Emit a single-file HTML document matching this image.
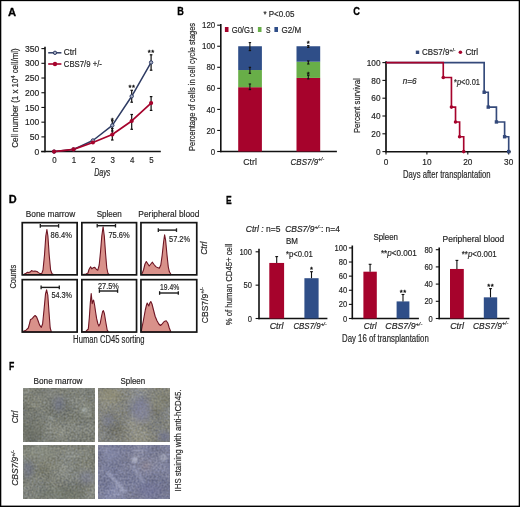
<!DOCTYPE html>
<html><head><meta charset="utf-8"><style>
html,body{margin:0;padding:0;background:#fff;}
#w{position:relative;width:520px;height:507px;overflow:hidden;background:#fff;filter:grayscale(0%);}
svg{position:absolute;left:0;top:0;}
svg text{font-family:"Liberation Sans", sans-serif;}
</style></head><body><div id="w">
<svg width="520" height="507" viewBox="0 0 520 507">
<text x="8.10" y="15.60" font-size="11.2" text-anchor="start" fill="#000" font-weight="bold" textLength="8.10" lengthAdjust="spacingAndGlyphs" stroke="#000" stroke-width="0.3">A</text>
<text x="177.20" y="15.30" font-size="11.2" text-anchor="start" fill="#000" font-weight="bold" textLength="6.60" lengthAdjust="spacingAndGlyphs" stroke="#000" stroke-width="0.3">B</text>
<text x="353.20" y="15.30" font-size="11.2" text-anchor="start" fill="#000" font-weight="bold" textLength="6.70" lengthAdjust="spacingAndGlyphs" stroke="#000" stroke-width="0.3">C</text>
<text x="8.80" y="203.30" font-size="11.2" text-anchor="start" fill="#000" font-weight="bold" textLength="7.90" lengthAdjust="spacingAndGlyphs" stroke="#000" stroke-width="0.3">D</text>
<text x="226.00" y="203.50" font-size="11.2" text-anchor="start" fill="#000" font-weight="bold" textLength="5.70" lengthAdjust="spacingAndGlyphs" stroke="#000" stroke-width="0.3">E</text>
<text x="9.10" y="369.50" font-size="11.2" text-anchor="start" fill="#000" font-weight="bold" textLength="5.30" lengthAdjust="spacingAndGlyphs" stroke="#000" stroke-width="0.3">F</text>
<line x1="45.00" y1="46.80" x2="45.00" y2="152.30" stroke="#111" stroke-width="1.6"/>
<line x1="41.20" y1="151.60" x2="160.80" y2="151.60" stroke="#111" stroke-width="1.5"/>
<line x1="41.40" y1="151.60" x2="45.00" y2="151.60" stroke="#111" stroke-width="1.1"/>
<text x="39.30" y="154.70" font-size="8.6" text-anchor="end" fill="#262626" textLength="4.75" lengthAdjust="spacingAndGlyphs" stroke="#262626" stroke-width="0.18">0</text>
<line x1="41.40" y1="136.88" x2="45.00" y2="136.88" stroke="#111" stroke-width="1.1"/>
<text x="39.30" y="139.98" font-size="8.6" text-anchor="end" fill="#262626" textLength="9.50" lengthAdjust="spacingAndGlyphs" stroke="#262626" stroke-width="0.18">50</text>
<line x1="41.40" y1="122.17" x2="45.00" y2="122.17" stroke="#111" stroke-width="1.1"/>
<text x="39.30" y="125.27" font-size="8.6" text-anchor="end" fill="#262626" textLength="14.25" lengthAdjust="spacingAndGlyphs" stroke="#262626" stroke-width="0.18">100</text>
<line x1="41.40" y1="107.45" x2="45.00" y2="107.45" stroke="#111" stroke-width="1.1"/>
<text x="39.30" y="110.55" font-size="8.6" text-anchor="end" fill="#262626" textLength="14.25" lengthAdjust="spacingAndGlyphs" stroke="#262626" stroke-width="0.18">150</text>
<line x1="41.40" y1="92.74" x2="45.00" y2="92.74" stroke="#111" stroke-width="1.1"/>
<text x="39.30" y="95.84" font-size="8.6" text-anchor="end" fill="#262626" textLength="14.25" lengthAdjust="spacingAndGlyphs" stroke="#262626" stroke-width="0.18">200</text>
<line x1="41.40" y1="78.02" x2="45.00" y2="78.02" stroke="#111" stroke-width="1.1"/>
<text x="39.30" y="81.12" font-size="8.6" text-anchor="end" fill="#262626" textLength="14.25" lengthAdjust="spacingAndGlyphs" stroke="#262626" stroke-width="0.18">250</text>
<line x1="41.40" y1="63.31" x2="45.00" y2="63.31" stroke="#111" stroke-width="1.1"/>
<text x="39.30" y="66.41" font-size="8.6" text-anchor="end" fill="#262626" textLength="14.25" lengthAdjust="spacingAndGlyphs" stroke="#262626" stroke-width="0.18">300</text>
<line x1="41.40" y1="48.59" x2="45.00" y2="48.59" stroke="#111" stroke-width="1.1"/>
<text x="39.30" y="51.69" font-size="8.6" text-anchor="end" fill="#262626" textLength="14.25" lengthAdjust="spacingAndGlyphs" stroke="#262626" stroke-width="0.18">350</text>
<text x="54.50" y="162.60" font-size="8.6" text-anchor="middle" fill="#262626" textLength="4.40" lengthAdjust="spacingAndGlyphs" stroke="#262626" stroke-width="0.18">0</text>
<text x="73.90" y="162.60" font-size="8.6" text-anchor="middle" fill="#262626" textLength="4.40" lengthAdjust="spacingAndGlyphs" stroke="#262626" stroke-width="0.18">1</text>
<text x="93.30" y="162.60" font-size="8.6" text-anchor="middle" fill="#262626" textLength="4.40" lengthAdjust="spacingAndGlyphs" stroke="#262626" stroke-width="0.18">2</text>
<text x="112.70" y="162.60" font-size="8.6" text-anchor="middle" fill="#262626" textLength="4.40" lengthAdjust="spacingAndGlyphs" stroke="#262626" stroke-width="0.18">3</text>
<text x="132.10" y="162.60" font-size="8.6" text-anchor="middle" fill="#262626" textLength="4.40" lengthAdjust="spacingAndGlyphs" stroke="#262626" stroke-width="0.18">4</text>
<text x="151.50" y="162.60" font-size="8.6" text-anchor="middle" fill="#262626" textLength="4.40" lengthAdjust="spacingAndGlyphs" stroke="#262626" stroke-width="0.18">5</text>
<text x="102.30" y="175.60" font-size="10.2" text-anchor="middle" fill="#262626" font-style="italic" textLength="16.20" lengthAdjust="spacingAndGlyphs" stroke="#262626" stroke-width="0.18">Days</text>
<text x="18.00" y="98.00" font-size="8.6" text-anchor="middle" fill="#262626" textLength="99.50" lengthAdjust="spacingAndGlyphs" stroke="#262626" stroke-width="0.18" transform="rotate(-90 18.00 98.00)">Cell number (1 x 10<tspan font-size="5.8" dy="-3.2">4</tspan><tspan dy="3.2"> cell/ml)</tspan></text>
<polyline fill="none" stroke="#2e3b63" stroke-width="1.5" stroke-linejoin="round" points="54.10,151.60 73.50,149.39 92.90,140.48 112.30,125.41 131.70,96.27 151.10,62.43"/>
<polyline fill="none" stroke="#a6032c" stroke-width="1.7" stroke-linejoin="round" points="54.10,151.60 73.50,149.39 92.90,142.48 112.30,134.53 131.70,120.99 151.10,103.04"/>
<line x1="112.30" y1="120.80" x2="112.30" y2="131.00" stroke="#111" stroke-width="1.2"/>
<line x1="111.00" y1="120.80" x2="113.60" y2="120.80" stroke="#111" stroke-width="1.2"/>
<line x1="111.00" y1="131.00" x2="113.60" y2="131.00" stroke="#111" stroke-width="1.2"/>
<line x1="131.70" y1="90.30" x2="131.70" y2="102.20" stroke="#111" stroke-width="1.2"/>
<line x1="130.40" y1="90.30" x2="133.00" y2="90.30" stroke="#111" stroke-width="1.2"/>
<line x1="130.40" y1="102.20" x2="133.00" y2="102.20" stroke="#111" stroke-width="1.2"/>
<line x1="151.10" y1="54.80" x2="151.10" y2="70.20" stroke="#111" stroke-width="1.2"/>
<line x1="149.80" y1="54.80" x2="152.40" y2="54.80" stroke="#111" stroke-width="1.2"/>
<line x1="149.80" y1="70.20" x2="152.40" y2="70.20" stroke="#111" stroke-width="1.2"/>
<line x1="112.30" y1="128.50" x2="112.30" y2="140.00" stroke="#111" stroke-width="1.2"/>
<line x1="111.00" y1="128.50" x2="113.60" y2="128.50" stroke="#111" stroke-width="1.2"/>
<line x1="111.00" y1="140.00" x2="113.60" y2="140.00" stroke="#111" stroke-width="1.2"/>
<line x1="131.70" y1="114.50" x2="131.70" y2="129.30" stroke="#111" stroke-width="1.2"/>
<line x1="130.40" y1="114.50" x2="133.00" y2="114.50" stroke="#111" stroke-width="1.2"/>
<line x1="130.40" y1="129.30" x2="133.00" y2="129.30" stroke="#111" stroke-width="1.2"/>
<line x1="151.10" y1="96.60" x2="151.10" y2="110.40" stroke="#111" stroke-width="1.2"/>
<line x1="149.80" y1="96.60" x2="152.40" y2="96.60" stroke="#111" stroke-width="1.2"/>
<line x1="149.80" y1="110.40" x2="152.40" y2="110.40" stroke="#111" stroke-width="1.2"/>
<circle cx="54.10" cy="151.60" r="1.7" fill="#a8b0c4" stroke="#2e3b63" stroke-width="1"/>
<circle cx="73.50" cy="149.39" r="1.7" fill="#a8b0c4" stroke="#2e3b63" stroke-width="1"/>
<circle cx="92.90" cy="140.48" r="1.7" fill="#a8b0c4" stroke="#2e3b63" stroke-width="1"/>
<circle cx="112.30" cy="125.41" r="1.7" fill="#a8b0c4" stroke="#2e3b63" stroke-width="1"/>
<circle cx="131.70" cy="96.27" r="1.7" fill="#a8b0c4" stroke="#2e3b63" stroke-width="1"/>
<circle cx="151.10" cy="62.43" r="1.7" fill="#a8b0c4" stroke="#2e3b63" stroke-width="1"/>
<circle cx="54.10" cy="151.60" r="2.1" fill="#a6032c"/>
<circle cx="73.50" cy="149.39" r="2.1" fill="#a6032c"/>
<circle cx="92.90" cy="142.48" r="2.1" fill="#a6032c"/>
<circle cx="112.30" cy="134.53" r="2.1" fill="#a6032c"/>
<circle cx="131.70" cy="120.99" r="2.1" fill="#a6032c"/>
<circle cx="151.10" cy="103.04" r="2.1" fill="#a6032c"/>
<text x="112.30" y="123.20" font-size="7.6" text-anchor="middle" fill="#111" stroke="#111" stroke-width="0.35">*</text>
<text x="129.95" y="90.00" font-size="7.6" text-anchor="middle" fill="#111" stroke="#111" stroke-width="0.35">*</text>
<text x="133.45" y="90.00" font-size="7.6" text-anchor="middle" fill="#111" stroke="#111" stroke-width="0.35">*</text>
<text x="149.35" y="54.90" font-size="7.6" text-anchor="middle" fill="#111" stroke="#111" stroke-width="0.35">*</text>
<text x="152.85" y="54.90" font-size="7.6" text-anchor="middle" fill="#111" stroke="#111" stroke-width="0.35">*</text>
<line x1="48.20" y1="52.80" x2="61.40" y2="52.80" stroke="#2e3b63" stroke-width="1.5"/>
<circle cx="55" cy="52.8" r="1.7" fill="#a8b0c4" stroke="#2e3b63" stroke-width="1"/>
<text x="63.80" y="55.00" font-size="8.6" text-anchor="start" fill="#262626" textLength="12.80" lengthAdjust="spacingAndGlyphs" stroke="#262626" stroke-width="0.18">Ctrl</text>
<line x1="48.20" y1="64.00" x2="61.40" y2="64.00" stroke="#a6032c" stroke-width="1.6"/>
<circle cx="55" cy="64.0" r="2.2" fill="#a6032c"/>
<text x="63.80" y="66.90" font-size="8.6" text-anchor="start" fill="#262626" textLength="38.10" lengthAdjust="spacingAndGlyphs" stroke="#262626" stroke-width="0.18">CBS7/9 +/-</text>
<line x1="220.80" y1="24.00" x2="220.80" y2="152.20" stroke="#111" stroke-width="1.6"/>
<line x1="220.20" y1="151.50" x2="336.90" y2="151.50" stroke="#111" stroke-width="1.5"/>
<line x1="217.20" y1="151.50" x2="220.80" y2="151.50" stroke="#111" stroke-width="1.1"/>
<text x="215.20" y="154.60" font-size="8.6" text-anchor="end" fill="#262626" textLength="4.40" lengthAdjust="spacingAndGlyphs" stroke="#262626" stroke-width="0.18">0</text>
<line x1="217.20" y1="130.45" x2="220.80" y2="130.45" stroke="#111" stroke-width="1.1"/>
<text x="215.20" y="133.55" font-size="8.6" text-anchor="end" fill="#262626" textLength="8.80" lengthAdjust="spacingAndGlyphs" stroke="#262626" stroke-width="0.18">20</text>
<line x1="217.20" y1="109.40" x2="220.80" y2="109.40" stroke="#111" stroke-width="1.1"/>
<text x="215.20" y="112.50" font-size="8.6" text-anchor="end" fill="#262626" textLength="8.80" lengthAdjust="spacingAndGlyphs" stroke="#262626" stroke-width="0.18">40</text>
<line x1="217.20" y1="88.35" x2="220.80" y2="88.35" stroke="#111" stroke-width="1.1"/>
<text x="215.20" y="91.45" font-size="8.6" text-anchor="end" fill="#262626" textLength="8.80" lengthAdjust="spacingAndGlyphs" stroke="#262626" stroke-width="0.18">60</text>
<line x1="217.20" y1="67.30" x2="220.80" y2="67.30" stroke="#111" stroke-width="1.1"/>
<text x="215.20" y="70.40" font-size="8.6" text-anchor="end" fill="#262626" textLength="8.80" lengthAdjust="spacingAndGlyphs" stroke="#262626" stroke-width="0.18">80</text>
<line x1="217.20" y1="46.25" x2="220.80" y2="46.25" stroke="#111" stroke-width="1.1"/>
<text x="215.20" y="49.35" font-size="8.6" text-anchor="end" fill="#262626" textLength="13.20" lengthAdjust="spacingAndGlyphs" stroke="#262626" stroke-width="0.18">100</text>
<line x1="217.20" y1="25.20" x2="220.80" y2="25.20" stroke="#111" stroke-width="1.1"/>
<text x="215.20" y="28.30" font-size="8.6" text-anchor="end" fill="#262626" textLength="13.20" lengthAdjust="spacingAndGlyphs" stroke="#262626" stroke-width="0.18">120</text>
<rect x="238.20" y="87.19" width="23.70" height="64.31" fill="#a6032c" />
<rect x="238.20" y="70.04" width="23.70" height="17.16" fill="#68ae48" />
<rect x="238.20" y="46.25" width="23.70" height="23.79" fill="#2f4e88" />
<rect x="296.50" y="77.93" width="23.70" height="73.57" fill="#a6032c" />
<rect x="296.50" y="61.72" width="23.70" height="16.21" fill="#68ae48" />
<rect x="296.50" y="46.25" width="23.70" height="15.47" fill="#2f4e88" />
<line x1="249.90" y1="42.60" x2="249.90" y2="50.60" stroke="#111" stroke-width="1.1"/>
<line x1="248.70" y1="42.60" x2="251.10" y2="42.60" stroke="#111" stroke-width="1.1"/>
<line x1="248.70" y1="50.60" x2="251.10" y2="50.60" stroke="#111" stroke-width="1.1"/>
<line x1="249.90" y1="67.30" x2="249.90" y2="73.30" stroke="#111" stroke-width="1.1"/>
<line x1="248.70" y1="67.30" x2="251.10" y2="67.30" stroke="#111" stroke-width="1.1"/>
<line x1="248.70" y1="73.30" x2="251.10" y2="73.30" stroke="#111" stroke-width="1.1"/>
<line x1="249.90" y1="84.00" x2="249.90" y2="89.60" stroke="#111" stroke-width="1.1"/>
<line x1="248.70" y1="84.00" x2="251.10" y2="84.00" stroke="#111" stroke-width="1.1"/>
<line x1="248.70" y1="89.60" x2="251.10" y2="89.60" stroke="#111" stroke-width="1.1"/>
<line x1="308.30" y1="45.60" x2="308.30" y2="47.40" stroke="#111" stroke-width="1.1"/>
<line x1="307.10" y1="45.60" x2="309.50" y2="45.60" stroke="#111" stroke-width="1.1"/>
<line x1="307.10" y1="47.40" x2="309.50" y2="47.40" stroke="#111" stroke-width="1.1"/>
<line x1="308.30" y1="60.90" x2="308.30" y2="64.00" stroke="#111" stroke-width="1.1"/>
<line x1="307.10" y1="60.90" x2="309.50" y2="60.90" stroke="#111" stroke-width="1.1"/>
<line x1="307.10" y1="64.00" x2="309.50" y2="64.00" stroke="#111" stroke-width="1.1"/>
<line x1="308.30" y1="75.30" x2="308.30" y2="78.90" stroke="#111" stroke-width="1.1"/>
<line x1="307.10" y1="75.30" x2="309.50" y2="75.30" stroke="#111" stroke-width="1.1"/>
<line x1="307.10" y1="78.90" x2="309.50" y2="78.90" stroke="#111" stroke-width="1.1"/>
<text x="308.30" y="45.60" font-size="7.6" text-anchor="middle" fill="#111" stroke="#111" stroke-width="0.35">*</text>
<text x="308.30" y="76.70" font-size="7.6" text-anchor="middle" fill="#111" stroke="#111" stroke-width="0.35">*</text>
<text x="250.10" y="164.90" font-size="8.6" text-anchor="middle" fill="#262626" textLength="13.50" lengthAdjust="spacingAndGlyphs" stroke="#262626" stroke-width="0.18">Ctrl</text>
<text x="290.60" y="164.60" font-size="8.6" text-anchor="start" fill="#262626" font-style="italic" textLength="33.60" lengthAdjust="spacingAndGlyphs" stroke="#262626" stroke-width="0.18">CBS7/9<tspan font-size="5.5" dy="-3.2">+/-</tspan></text>
<text x="263.40" y="17.30" font-size="8.6" text-anchor="start" fill="#262626" textLength="31.00" lengthAdjust="spacingAndGlyphs" stroke="#262626" stroke-width="0.18">* P&lt;0.05</text>
<rect x="224.90" y="27.00" width="3.60" height="5.00" fill="#a6032c" />
<text x="231.70" y="32.60" font-size="8.6" text-anchor="start" fill="#262626" textLength="22.50" lengthAdjust="spacingAndGlyphs" stroke="#262626" stroke-width="0.18">G0/G1</text>
<rect x="257.90" y="27.00" width="3.60" height="5.00" fill="#68ae48" />
<text x="266.00" y="32.60" font-size="8.6" text-anchor="start" fill="#262626" textLength="4.50" lengthAdjust="spacingAndGlyphs" stroke="#262626" stroke-width="0.18">S</text>
<rect x="274.40" y="27.00" width="3.60" height="5.00" fill="#2f4e88" />
<text x="281.60" y="32.60" font-size="8.6" text-anchor="start" fill="#262626" textLength="19.70" lengthAdjust="spacingAndGlyphs" stroke="#262626" stroke-width="0.18">G2/M</text>
<text x="194.60" y="86.90" font-size="8.6" text-anchor="middle" fill="#262626" textLength="128.00" lengthAdjust="spacingAndGlyphs" stroke="#262626" stroke-width="0.18" transform="rotate(-90 194.60 86.90)">Percentage of cells in cell cycle stages</text>
<line x1="386.00" y1="61.20" x2="386.00" y2="152.30" stroke="#111" stroke-width="1.7"/>
<line x1="385.40" y1="151.70" x2="510.70" y2="151.70" stroke="#111" stroke-width="1.5"/>
<line x1="382.40" y1="151.60" x2="386.00" y2="151.60" stroke="#111" stroke-width="1.1"/>
<text x="380.50" y="154.70" font-size="8.6" text-anchor="end" fill="#262626" textLength="4.60" lengthAdjust="spacingAndGlyphs" stroke="#262626" stroke-width="0.18">0</text>
<line x1="382.40" y1="133.80" x2="386.00" y2="133.80" stroke="#111" stroke-width="1.1"/>
<text x="380.50" y="136.90" font-size="8.6" text-anchor="end" fill="#262626" textLength="9.20" lengthAdjust="spacingAndGlyphs" stroke="#262626" stroke-width="0.18">20</text>
<line x1="382.40" y1="116.00" x2="386.00" y2="116.00" stroke="#111" stroke-width="1.1"/>
<text x="380.50" y="119.10" font-size="8.6" text-anchor="end" fill="#262626" textLength="9.20" lengthAdjust="spacingAndGlyphs" stroke="#262626" stroke-width="0.18">40</text>
<line x1="382.40" y1="98.20" x2="386.00" y2="98.20" stroke="#111" stroke-width="1.1"/>
<text x="380.50" y="101.30" font-size="8.6" text-anchor="end" fill="#262626" textLength="9.20" lengthAdjust="spacingAndGlyphs" stroke="#262626" stroke-width="0.18">60</text>
<line x1="382.40" y1="80.40" x2="386.00" y2="80.40" stroke="#111" stroke-width="1.1"/>
<text x="380.50" y="83.50" font-size="8.6" text-anchor="end" fill="#262626" textLength="9.20" lengthAdjust="spacingAndGlyphs" stroke="#262626" stroke-width="0.18">80</text>
<line x1="382.40" y1="62.60" x2="386.00" y2="62.60" stroke="#111" stroke-width="1.1"/>
<text x="380.50" y="65.70" font-size="8.6" text-anchor="end" fill="#262626" textLength="13.80" lengthAdjust="spacingAndGlyphs" stroke="#262626" stroke-width="0.18">100</text>
<line x1="386.00" y1="151.70" x2="386.00" y2="154.60" stroke="#111" stroke-width="1.1"/>
<text x="386.00" y="165.10" font-size="8.6" text-anchor="middle" fill="#262626" textLength="4.60" lengthAdjust="spacingAndGlyphs" stroke="#262626" stroke-width="0.18">0</text>
<line x1="426.90" y1="151.70" x2="426.90" y2="154.60" stroke="#111" stroke-width="1.1"/>
<text x="426.90" y="165.10" font-size="8.6" text-anchor="middle" fill="#262626" textLength="9.20" lengthAdjust="spacingAndGlyphs" stroke="#262626" stroke-width="0.18">10</text>
<line x1="467.80" y1="151.70" x2="467.80" y2="154.60" stroke="#111" stroke-width="1.1"/>
<text x="467.80" y="165.10" font-size="8.6" text-anchor="middle" fill="#262626" textLength="9.20" lengthAdjust="spacingAndGlyphs" stroke="#262626" stroke-width="0.18">20</text>
<line x1="508.70" y1="151.70" x2="508.70" y2="154.60" stroke="#111" stroke-width="1.1"/>
<text x="508.70" y="165.10" font-size="8.6" text-anchor="middle" fill="#262626" textLength="9.20" lengthAdjust="spacingAndGlyphs" stroke="#262626" stroke-width="0.18">30</text>
<text x="446.80" y="178.40" font-size="10.4" text-anchor="middle" fill="#262626" textLength="87.60" lengthAdjust="spacingAndGlyphs" stroke="#262626" stroke-width="0.18">Days after transplantation</text>
<text x="360.20" y="105.70" font-size="8.8" text-anchor="middle" fill="#262626" textLength="54.80" lengthAdjust="spacingAndGlyphs" stroke="#262626" stroke-width="0.18" transform="rotate(-90 360.20 105.70)">Percent survival</text>
<path d="M386.00,62.60 H484.16 V92.24 H488.25 V107.10 H496.43 V121.96 H504.61 V136.74 H508.70 V151.60" fill="none" stroke="#34497a" stroke-width="1.65"/>
<rect x="482.46" y="90.54" width="3.40" height="3.40" fill="#34497a" />
<rect x="486.55" y="105.40" width="3.40" height="3.40" fill="#34497a" />
<rect x="494.73" y="120.26" width="3.40" height="3.40" fill="#34497a" />
<rect x="502.91" y="135.04" width="3.40" height="3.40" fill="#34497a" />
<rect x="507.00" y="149.90" width="3.40" height="3.40" fill="#34497a" />
<path d="M386.00,62.60 H443.26 V77.46 H451.44 V107.10 H455.53 V121.96 H459.62 V136.74 H463.71 V151.60" fill="none" stroke="#a6032c" stroke-width="1.65"/>
<circle cx="443.26" cy="77.46" r="1.8" fill="#a6032c"/>
<circle cx="451.44" cy="107.10" r="1.8" fill="#a6032c"/>
<circle cx="455.53" cy="121.96" r="1.8" fill="#a6032c"/>
<circle cx="459.62" cy="136.74" r="1.8" fill="#a6032c"/>
<circle cx="463.71" cy="151.60" r="1.8" fill="#a6032c"/>
<text x="402.70" y="84.00" font-size="8.6" text-anchor="start" fill="#262626" font-style="italic" textLength="13.80" lengthAdjust="spacingAndGlyphs" stroke="#262626" stroke-width="0.18">n=6</text>
<text x="454.00" y="84.90" font-size="8.6" text-anchor="start" fill="#262626" textLength="26.00" lengthAdjust="spacingAndGlyphs" stroke="#262626" stroke-width="0.18">*<tspan font-style="italic">p</tspan>&lt;0.01</text>
<rect x="415.80" y="50.60" width="3.40" height="3.40" fill="#34497a" />
<text x="422.00" y="55.30" font-size="8.6" text-anchor="start" fill="#262626" textLength="33.50" lengthAdjust="spacingAndGlyphs" stroke="#262626" stroke-width="0.18">CBS7/9<tspan font-size="5.5" dy="-3.2">+/-</tspan></text>
<circle cx="460.4" cy="52.3" r="1.8" fill="#a6032c"/>
<text x="465.40" y="55.30" font-size="8.6" text-anchor="start" fill="#262626" textLength="12.80" lengthAdjust="spacingAndGlyphs" stroke="#262626" stroke-width="0.18">Ctrl</text>
<text x="50.50" y="217.17" font-size="8.8" text-anchor="middle" fill="#262626" textLength="49.40" lengthAdjust="spacingAndGlyphs" stroke="#262626" stroke-width="0.18">Bone marrow</text>
<text x="109.20" y="217.17" font-size="8.8" text-anchor="middle" fill="#262626" textLength="25.10" lengthAdjust="spacingAndGlyphs" stroke="#262626" stroke-width="0.18">Spleen</text>
<text x="168.90" y="217.17" font-size="8.8" text-anchor="middle" fill="#262626" textLength="61.10" lengthAdjust="spacingAndGlyphs" stroke="#262626" stroke-width="0.18">Peripheral blood</text>
<path d="M22.50,274.60 L24.00,274.20 L26.00,273.20 L27.50,272.20 L29.00,272.60 L30.50,271.80 L31.50,270.60 L33.00,271.20 L35.00,271.00 L37.00,271.50 L38.50,272.60 L40.00,273.60 L41.80,273.40 L43.00,270.00 L44.50,255.00 L45.80,236.00 L46.90,229.60 L47.90,236.00 L49.20,255.00 L50.60,270.00 L52.00,273.80 L53.50,274.60 Z" fill="#d9918a" stroke="#6e1624" stroke-width="1.1" stroke-linejoin="round"/>
<path d="M82.50,274.60 L86.00,274.00 L88.00,273.00 L89.00,269.50 L90.60,266.80 L91.80,268.80 L93.00,267.80 L94.80,267.40 L96.50,269.50 L97.80,270.20 L99.20,265.00 L100.50,252.00 L101.80,236.00 L103.10,226.80 L104.30,236.00 L105.60,254.00 L106.80,268.00 L108.00,273.50 L109.50,274.60 Z" fill="#d9918a" stroke="#6e1624" stroke-width="1.1" stroke-linejoin="round"/>
<path d="M141.50,274.60 L142.30,273.00 L143.50,270.00 L145.00,264.00 L146.30,261.50 L147.60,263.50 L149.20,266.00 L150.80,264.00 L152.40,262.20 L154.00,264.50 L155.80,266.60 L157.50,267.60 L159.30,268.30 L160.80,265.00 L162.20,255.00 L163.60,242.00 L164.60,234.80 L165.60,240.00 L167.00,255.00 L168.30,267.00 L169.40,271.80 L171.00,274.60 Z" fill="#d9918a" stroke="#6e1624" stroke-width="1.1" stroke-linejoin="round"/>
<path d="M22.50,331.80 L24.00,331.00 L26.00,330.20 L28.30,328.00 L29.40,324.00 L30.40,319.80 L32.40,318.40 L33.80,316.60 L35.10,315.50 L36.60,317.00 L38.00,320.50 L39.50,324.90 L41.30,327.30 L42.60,324.00 L44.00,310.00 L45.50,294.00 L46.60,289.80 L47.80,295.00 L49.00,312.00 L50.20,328.00 L51.40,331.80 Z" fill="#d9918a" stroke="#6e1624" stroke-width="1.1" stroke-linejoin="round"/>
<path d="M82.40,331.80 L86.00,331.20 L88.30,329.00 L89.30,318.00 L90.30,303.00 L91.20,293.60 L92.20,303.60 L92.90,301.00 L93.60,300.10 L94.60,305.00 L95.60,312.00 L96.60,318.40 L97.80,323.50 L98.90,326.10 L100.20,323.50 L101.60,316.00 L102.60,311.50 L103.40,310.70 L104.40,313.50 L105.60,321.00 L107.20,330.20 L108.40,331.80 Z" fill="#d9918a" stroke="#6e1624" stroke-width="1.1" stroke-linejoin="round"/>
<path d="M141.20,331.80 L141.80,328.50 L143.50,320.00 L145.30,310.00 L146.50,305.00 L147.20,303.00 L148.00,304.50 L148.80,306.00 L149.80,303.00 L150.80,301.50 L152.00,304.00 L153.50,310.00 L155.20,316.50 L157.00,320.80 L158.80,324.00 L160.50,325.50 L162.20,323.80 L164.20,321.50 L166.20,320.80 L167.80,323.00 L169.30,328.00 L170.80,331.80 Z" fill="#d9918a" stroke="#6e1624" stroke-width="1.1" stroke-linejoin="round"/>
<rect x="22.25" y="222.65" width="54.90" height="52.20" fill="none" stroke="#151515" stroke-width="1.7"/>
<rect x="22.25" y="279.65" width="54.90" height="52.40" fill="none" stroke="#151515" stroke-width="1.7"/>
<rect x="81.85" y="222.65" width="54.70" height="52.20" fill="none" stroke="#151515" stroke-width="1.7"/>
<rect x="81.85" y="279.65" width="54.70" height="52.40" fill="none" stroke="#151515" stroke-width="1.7"/>
<rect x="140.95" y="222.65" width="55.80" height="52.20" fill="none" stroke="#151515" stroke-width="1.7"/>
<rect x="140.95" y="279.65" width="55.80" height="52.40" fill="none" stroke="#151515" stroke-width="1.7"/>
<line x1="40.30" y1="225.90" x2="58.60" y2="225.90" stroke="#1a1a1a" stroke-width="1.4"/>
<line x1="40.30" y1="224.10" x2="40.30" y2="227.70" stroke="#1a1a1a" stroke-width="1.3"/>
<line x1="58.60" y1="224.10" x2="58.60" y2="227.70" stroke="#1a1a1a" stroke-width="1.3"/>
<text x="50.50" y="238.40" font-size="8.6" text-anchor="start" fill="#262626" textLength="21.50" lengthAdjust="spacingAndGlyphs" stroke="#262626" stroke-width="0.18">86.4%</text>
<line x1="97.20" y1="225.70" x2="115.50" y2="225.70" stroke="#1a1a1a" stroke-width="1.4"/>
<line x1="97.20" y1="223.90" x2="97.20" y2="227.50" stroke="#1a1a1a" stroke-width="1.3"/>
<line x1="115.50" y1="223.90" x2="115.50" y2="227.50" stroke="#1a1a1a" stroke-width="1.3"/>
<text x="108.40" y="238.20" font-size="8.6" text-anchor="start" fill="#262626" textLength="21.30" lengthAdjust="spacingAndGlyphs" stroke="#262626" stroke-width="0.18">75.6%</text>
<line x1="158.30" y1="230.10" x2="176.50" y2="230.10" stroke="#1a1a1a" stroke-width="1.4"/>
<line x1="158.30" y1="228.30" x2="158.30" y2="231.90" stroke="#1a1a1a" stroke-width="1.3"/>
<line x1="176.50" y1="228.30" x2="176.50" y2="231.90" stroke="#1a1a1a" stroke-width="1.3"/>
<text x="169.00" y="241.70" font-size="8.6" text-anchor="start" fill="#262626" textLength="21.10" lengthAdjust="spacingAndGlyphs" stroke="#262626" stroke-width="0.18">57.2%</text>
<line x1="41.10" y1="287.40" x2="59.30" y2="287.40" stroke="#1a1a1a" stroke-width="1.4"/>
<line x1="41.10" y1="285.60" x2="41.10" y2="289.20" stroke="#1a1a1a" stroke-width="1.3"/>
<line x1="59.30" y1="285.60" x2="59.30" y2="289.20" stroke="#1a1a1a" stroke-width="1.3"/>
<text x="51.40" y="297.80" font-size="8.6" text-anchor="start" fill="#262626" textLength="20.70" lengthAdjust="spacingAndGlyphs" stroke="#262626" stroke-width="0.18">54.3%</text>
<line x1="99.40" y1="291.00" x2="117.60" y2="291.00" stroke="#1a1a1a" stroke-width="1.4"/>
<line x1="99.40" y1="289.20" x2="99.40" y2="292.80" stroke="#1a1a1a" stroke-width="1.3"/>
<line x1="117.60" y1="289.20" x2="117.60" y2="292.80" stroke="#1a1a1a" stroke-width="1.3"/>
<text x="98.00" y="288.50" font-size="8.6" text-anchor="start" fill="#262626" textLength="20.80" lengthAdjust="spacingAndGlyphs" stroke="#262626" stroke-width="0.18">27.5%</text>
<line x1="159.60" y1="293.00" x2="178.30" y2="293.00" stroke="#1a1a1a" stroke-width="1.4"/>
<line x1="159.60" y1="291.20" x2="159.60" y2="294.80" stroke="#1a1a1a" stroke-width="1.3"/>
<line x1="178.30" y1="291.20" x2="178.30" y2="294.80" stroke="#1a1a1a" stroke-width="1.3"/>
<text x="160.00" y="289.50" font-size="8.6" text-anchor="start" fill="#262626" textLength="19.20" lengthAdjust="spacingAndGlyphs" stroke="#262626" stroke-width="0.18">19.4%</text>
<text x="207.20" y="248.20" font-size="8.8" text-anchor="middle" fill="#262626" font-style="italic" textLength="13.20" lengthAdjust="spacingAndGlyphs" stroke="#262626" stroke-width="0.18" transform="rotate(-90 207.20 248.20)">Ctrl</text>
<text x="207.60" y="305.20" font-size="8.6" text-anchor="middle" fill="#262626" textLength="36.00" lengthAdjust="spacingAndGlyphs" stroke="#262626" stroke-width="0.18" transform="rotate(-90 207.60 305.20)">CBS7/9<tspan font-size="5.5" dy="-3.2">+/-</tspan></text>
<text x="15.60" y="276.70" font-size="8.8" text-anchor="middle" fill="#262626" textLength="23.80" lengthAdjust="spacingAndGlyphs" stroke="#262626" stroke-width="0.18" transform="rotate(-90 15.60 276.70)">Counts</text>
<text x="73.10" y="342.90" font-size="10.0" text-anchor="start" fill="#262626" textLength="71.50" lengthAdjust="spacingAndGlyphs" stroke="#262626" stroke-width="0.18">Human CD45 sorting</text>
<text x="245.80" y="231.90" font-size="8.6" text-anchor="start" fill="#262626" font-style="italic" textLength="94.20" lengthAdjust="spacingAndGlyphs" stroke="#262626" stroke-width="0.18">Ctrl : <tspan font-style="normal">n=5</tspan>&#160; CBS7/9<tspan font-size="5.5" dy="-3.2">+/-</tspan><tspan dy="3.2" font-style="normal">: n=4</tspan></text>
<line x1="259.00" y1="248.80" x2="259.00" y2="319.20" stroke="#111" stroke-width="1.6"/>
<line x1="258.40" y1="318.50" x2="327.40" y2="318.50" stroke="#111" stroke-width="1.5"/>
<line x1="255.60" y1="318.50" x2="259.00" y2="318.50" stroke="#111" stroke-width="1.1"/>
<text x="252.00" y="321.60" font-size="8.6" text-anchor="end" fill="#262626" textLength="4.20" lengthAdjust="spacingAndGlyphs" stroke="#262626" stroke-width="0.18">0</text>
<line x1="255.60" y1="285.15" x2="259.00" y2="285.15" stroke="#111" stroke-width="1.1"/>
<text x="252.00" y="288.25" font-size="8.6" text-anchor="end" fill="#262626" textLength="8.40" lengthAdjust="spacingAndGlyphs" stroke="#262626" stroke-width="0.18">50</text>
<line x1="255.60" y1="251.80" x2="259.00" y2="251.80" stroke="#111" stroke-width="1.1"/>
<text x="252.00" y="254.90" font-size="8.6" text-anchor="end" fill="#262626" textLength="12.60" lengthAdjust="spacingAndGlyphs" stroke="#262626" stroke-width="0.18">100</text>
<rect x="269.30" y="262.94" width="14.80" height="55.56" fill="#a6032c" />
<line x1="276.70" y1="262.94" x2="276.70" y2="256.60" stroke="#111" stroke-width="1.1"/>
<line x1="275.30" y1="256.60" x2="278.10" y2="256.60" stroke="#111" stroke-width="1.1"/>
<rect x="304.40" y="278.21" width="14.20" height="40.29" fill="#2f4e88" />
<line x1="311.50" y1="278.21" x2="311.50" y2="271.70" stroke="#111" stroke-width="1.1"/>
<line x1="310.10" y1="271.70" x2="312.90" y2="271.70" stroke="#111" stroke-width="1.1"/>
<text x="311.50" y="272.20" font-size="7.6" text-anchor="middle" fill="#111" stroke="#111" stroke-width="0.35">*</text>
<text x="286.00" y="243.80" font-size="8.6" text-anchor="start" fill="#262626" textLength="12.00" lengthAdjust="spacingAndGlyphs" stroke="#262626" stroke-width="0.18">BM</text>
<text x="286.00" y="257.00" font-size="8.6" text-anchor="start" fill="#262626" textLength="26.70" lengthAdjust="spacingAndGlyphs" stroke="#262626" stroke-width="0.18">*p&lt;0.01</text>
<text x="276.60" y="328.90" font-size="8.6" text-anchor="middle" fill="#262626" font-style="italic" textLength="13.80" lengthAdjust="spacingAndGlyphs" stroke="#262626" stroke-width="0.18">Ctrl</text>
<text x="293.40" y="328.90" font-size="8.6" text-anchor="start" fill="#262626" font-style="italic" textLength="33.30" lengthAdjust="spacingAndGlyphs" stroke="#262626" stroke-width="0.18">CBS7/9<tspan font-size="5.5" dy="-3.2">+/-</tspan></text>
<text x="231.60" y="284.50" font-size="8.8" text-anchor="middle" fill="#262626" textLength="81.70" lengthAdjust="spacingAndGlyphs" stroke="#262626" stroke-width="0.18" transform="rotate(-90 231.60 284.50)">% of human CD45+ cell</text>
<line x1="352.30" y1="245.50" x2="352.30" y2="319.20" stroke="#111" stroke-width="1.6"/>
<line x1="351.70" y1="318.50" x2="418.90" y2="318.50" stroke="#111" stroke-width="1.5"/>
<line x1="348.90" y1="318.50" x2="352.30" y2="318.50" stroke="#111" stroke-width="1.1"/>
<text x="347.20" y="321.60" font-size="8.6" text-anchor="end" fill="#262626" textLength="4.20" lengthAdjust="spacingAndGlyphs" stroke="#262626" stroke-width="0.18">0</text>
<line x1="348.90" y1="304.38" x2="352.30" y2="304.38" stroke="#111" stroke-width="1.1"/>
<text x="347.20" y="307.48" font-size="8.6" text-anchor="end" fill="#262626" textLength="8.40" lengthAdjust="spacingAndGlyphs" stroke="#262626" stroke-width="0.18">20</text>
<line x1="348.90" y1="290.26" x2="352.30" y2="290.26" stroke="#111" stroke-width="1.1"/>
<text x="347.20" y="293.36" font-size="8.6" text-anchor="end" fill="#262626" textLength="8.40" lengthAdjust="spacingAndGlyphs" stroke="#262626" stroke-width="0.18">40</text>
<line x1="348.90" y1="276.14" x2="352.30" y2="276.14" stroke="#111" stroke-width="1.1"/>
<text x="347.20" y="279.24" font-size="8.6" text-anchor="end" fill="#262626" textLength="8.40" lengthAdjust="spacingAndGlyphs" stroke="#262626" stroke-width="0.18">60</text>
<line x1="348.90" y1="262.02" x2="352.30" y2="262.02" stroke="#111" stroke-width="1.1"/>
<text x="347.20" y="265.12" font-size="8.6" text-anchor="end" fill="#262626" textLength="8.40" lengthAdjust="spacingAndGlyphs" stroke="#262626" stroke-width="0.18">80</text>
<line x1="348.90" y1="247.90" x2="352.30" y2="247.90" stroke="#111" stroke-width="1.1"/>
<text x="347.20" y="251.00" font-size="8.6" text-anchor="end" fill="#262626" textLength="12.60" lengthAdjust="spacingAndGlyphs" stroke="#262626" stroke-width="0.18">100</text>
<rect x="363.40" y="271.69" width="13.40" height="46.81" fill="#a6032c" />
<line x1="370.10" y1="271.69" x2="370.10" y2="264.30" stroke="#111" stroke-width="1.1"/>
<line x1="368.70" y1="264.30" x2="371.50" y2="264.30" stroke="#111" stroke-width="1.1"/>
<rect x="396.60" y="301.41" width="12.80" height="17.09" fill="#2f4e88" />
<line x1="403.00" y1="301.41" x2="403.00" y2="294.50" stroke="#111" stroke-width="1.1"/>
<line x1="401.60" y1="294.50" x2="404.40" y2="294.50" stroke="#111" stroke-width="1.1"/>
<text x="401.25" y="295.00" font-size="7.6" text-anchor="middle" fill="#111" stroke="#111" stroke-width="0.35">*</text>
<text x="404.75" y="295.00" font-size="7.6" text-anchor="middle" fill="#111" stroke="#111" stroke-width="0.35">*</text>
<text x="373.40" y="239.80" font-size="8.6" text-anchor="start" fill="#262626" textLength="24.60" lengthAdjust="spacingAndGlyphs" stroke="#262626" stroke-width="0.18">Spleen</text>
<text x="380.90" y="255.60" font-size="8.6" text-anchor="start" fill="#262626" textLength="36.00" lengthAdjust="spacingAndGlyphs" stroke="#262626" stroke-width="0.18">**<tspan font-style="italic">p</tspan>&lt;0.001</text>
<text x="370.10" y="328.80" font-size="8.6" text-anchor="middle" fill="#262626" font-style="italic" textLength="12.80" lengthAdjust="spacingAndGlyphs" stroke="#262626" stroke-width="0.18">Ctrl</text>
<text x="385.30" y="329.00" font-size="8.6" text-anchor="start" fill="#262626" font-style="italic" textLength="37.00" lengthAdjust="spacingAndGlyphs" stroke="#262626" stroke-width="0.18">CBS7/9<tspan font-size="5.5" dy="-3.2">+/-</tspan></text>
<text x="342.00" y="341.70" font-size="10.2" text-anchor="start" fill="#262626" textLength="86.80" lengthAdjust="spacingAndGlyphs" stroke="#262626" stroke-width="0.18">Day 16 of transplantation</text>
<line x1="439.20" y1="247.50" x2="439.20" y2="319.20" stroke="#111" stroke-width="1.6"/>
<line x1="438.60" y1="318.50" x2="509.40" y2="318.50" stroke="#111" stroke-width="1.5"/>
<line x1="435.80" y1="318.50" x2="439.20" y2="318.50" stroke="#111" stroke-width="1.1"/>
<text x="432.80" y="321.60" font-size="8.6" text-anchor="end" fill="#262626" textLength="4.20" lengthAdjust="spacingAndGlyphs" stroke="#262626" stroke-width="0.18">0</text>
<line x1="435.80" y1="301.30" x2="439.20" y2="301.30" stroke="#111" stroke-width="1.1"/>
<text x="432.80" y="304.40" font-size="8.6" text-anchor="end" fill="#262626" textLength="8.40" lengthAdjust="spacingAndGlyphs" stroke="#262626" stroke-width="0.18">20</text>
<line x1="435.80" y1="284.10" x2="439.20" y2="284.10" stroke="#111" stroke-width="1.1"/>
<text x="432.80" y="287.20" font-size="8.6" text-anchor="end" fill="#262626" textLength="8.40" lengthAdjust="spacingAndGlyphs" stroke="#262626" stroke-width="0.18">40</text>
<line x1="435.80" y1="266.90" x2="439.20" y2="266.90" stroke="#111" stroke-width="1.1"/>
<text x="432.80" y="270.00" font-size="8.6" text-anchor="end" fill="#262626" textLength="8.40" lengthAdjust="spacingAndGlyphs" stroke="#262626" stroke-width="0.18">60</text>
<line x1="435.80" y1="249.70" x2="439.20" y2="249.70" stroke="#111" stroke-width="1.1"/>
<text x="432.80" y="252.80" font-size="8.6" text-anchor="end" fill="#262626" textLength="8.40" lengthAdjust="spacingAndGlyphs" stroke="#262626" stroke-width="0.18">80</text>
<rect x="450.00" y="268.96" width="13.80" height="49.54" fill="#a6032c" />
<line x1="456.90" y1="268.96" x2="456.90" y2="260.40" stroke="#111" stroke-width="1.1"/>
<line x1="455.50" y1="260.40" x2="458.30" y2="260.40" stroke="#111" stroke-width="1.1"/>
<rect x="483.80" y="297.34" width="13.40" height="21.16" fill="#2f4e88" />
<line x1="490.50" y1="297.34" x2="490.50" y2="288.60" stroke="#111" stroke-width="1.1"/>
<line x1="489.10" y1="288.60" x2="491.90" y2="288.60" stroke="#111" stroke-width="1.1"/>
<text x="488.75" y="289.10" font-size="7.6" text-anchor="middle" fill="#111" stroke="#111" stroke-width="0.35">*</text>
<text x="492.25" y="289.10" font-size="7.6" text-anchor="middle" fill="#111" stroke="#111" stroke-width="0.35">*</text>
<text x="442.50" y="242.20" font-size="8.6" text-anchor="start" fill="#262626" textLength="61.80" lengthAdjust="spacingAndGlyphs" stroke="#262626" stroke-width="0.18">Peripheral blood</text>
<text x="461.70" y="257.00" font-size="8.6" text-anchor="start" fill="#262626" textLength="35.10" lengthAdjust="spacingAndGlyphs" stroke="#262626" stroke-width="0.18">**<tspan font-style="italic">p</tspan>&lt;0.001</text>
<text x="457.10" y="328.60" font-size="8.6" text-anchor="middle" fill="#262626" font-style="italic" textLength="13.80" lengthAdjust="spacingAndGlyphs" stroke="#262626" stroke-width="0.18">Ctrl</text>
<text x="473.00" y="328.60" font-size="8.6" text-anchor="start" fill="#262626" font-style="italic" textLength="35.40" lengthAdjust="spacingAndGlyphs" stroke="#262626" stroke-width="0.18">CBS7/9<tspan font-size="5.5" dy="-3.2">+/-</tspan></text>
<text x="58.00" y="383.77" font-size="8.8" text-anchor="middle" fill="#262626" textLength="48.90" lengthAdjust="spacingAndGlyphs" stroke="#262626" stroke-width="0.18">Bone marrow</text>
<text x="132.80" y="383.97" font-size="8.8" text-anchor="middle" fill="#262626" textLength="24.70" lengthAdjust="spacingAndGlyphs" stroke="#262626" stroke-width="0.18">Spleen</text>
<rect x="23.30" y="388.40" width="71.70" height="53.20" fill="#7c7f77" filter="url(#tx1)"/>
<rect x="98.20" y="388.40" width="71.60" height="53.20" fill="#82837c" filter="url(#tx2)"/>
<rect x="23.30" y="445.00" width="71.70" height="53.40" fill="#80837b" filter="url(#tx3)"/>
<rect x="98.20" y="445.00" width="71.60" height="53.40" fill="#7b7e98" filter="url(#tx4)"/>
<g clip-path="url(#cp1)"><g filter="url(#bl3)"><ellipse cx="59" cy="403" rx="5" ry="8" fill="#6c70a0" opacity="0.45"/><ellipse cx="86" cy="411" rx="5" ry="5" fill="#b8c0c0" opacity="0.35"/><ellipse cx="30" cy="432" rx="14" ry="10" fill="#5e6258" opacity="0.35"/><ellipse cx="50" cy="395" rx="12" ry="6" fill="#9a9c8e" opacity="0.25"/></g><g filter="url(#bl1)" opacity="0.6"><circle cx="51.5" cy="418" r="1.4" fill="#d0d8d8"/><circle cx="84" cy="410" r="1.6" fill="#d0dce0"/><circle cx="90" cy="415" r="1.2" fill="#d0d4c8"/><line x1="24" y1="400" x2="40" y2="408" stroke="#b0b4a8" stroke-width="1"/></g></g>
<g clip-path="url(#cp2)"><g filter="url(#bl3)"><ellipse cx="141" cy="410" rx="10" ry="13" fill="#7478a8" opacity="0.45"/><ellipse cx="108" cy="420" rx="5" ry="6" fill="#7478a8" opacity="0.4"/><ellipse cx="165" cy="437" rx="6" ry="5" fill="#6a70a8" opacity="0.55"/><ellipse cx="108" cy="395" rx="12" ry="8" fill="#a09a78" opacity="0.35"/><ellipse cx="160" cy="400" rx="8" ry="10" fill="#9c9a80" opacity="0.3"/></g></g>
<g clip-path="url(#cp3)"><g filter="url(#bl3)"><ellipse cx="28" cy="470" rx="5" ry="9" fill="#7075a0" opacity="0.45"/><ellipse cx="87" cy="478" rx="8" ry="7" fill="#7075a0" opacity="0.4"/><ellipse cx="40" cy="452" rx="14" ry="7" fill="#a0a290" opacity="0.35"/><ellipse cx="60" cy="494" rx="25" ry="5" fill="#5e6258" opacity="0.3"/></g></g>
<g clip-path="url(#cp4)"><g filter="url(#bl3)"><ellipse cx="112" cy="455" rx="10" ry="8" fill="#9aa0c0" opacity="0.35"/><ellipse cx="146" cy="466" rx="3" ry="3" fill="#9a7a62" opacity="0.55"/><ellipse cx="150" cy="490" rx="14" ry="7" fill="#62668e" opacity="0.3"/></g><g filter="url(#bl1)" opacity="0.55"><line x1="107.5" y1="472" x2="125" y2="492" stroke="#c4c8e0" stroke-width="2"/><line x1="132.5" y1="466" x2="144" y2="483" stroke="#b8bcd8" stroke-width="1.8"/><circle cx="134.7" cy="459.8" r="2.6" fill="#d4d8e8"/><circle cx="163.3" cy="457.6" r="2.6" fill="none" stroke="#d8dce8" stroke-width="1.6"/></g></g>
<defs><filter id="tx1" x="0" y="0" width="1" height="1" color-interpolation-filters="sRGB"><feTurbulence type="fractalNoise" baseFrequency="0.045" numOctaves="2" seed="7" result="lo0"/><feColorMatrix in="lo0" type="matrix" values="1 0 0 0 0  0 1 0 0 0  0 0 1 0 0  0 0 0 0 1" result="lo"/><feTurbulence type="fractalNoise" baseFrequency="0.5" numOctaves="2" seed="18" result="hi0"/><feColorMatrix in="hi0" type="matrix" values="1 0 0 0 0  0 1 0 0 0  0 0 1 0 0  0 0 0 0 1" result="hi"/><feComposite in="lo" in2="hi" operator="arithmetic" k1="0" k2="0.45" k3="0.75" k4="-0.100" result="mix"/><feColorMatrix in="mix" type="matrix" values="0.360 -0.048 0 0 0.3303  0.360 -0.024 0 0 0.3300  0.360 0.080 0 0 0.2467  0 0 0 0 1"/></filter><filter id="tx2" x="0" y="0" width="1" height="1" color-interpolation-filters="sRGB"><feTurbulence type="fractalNoise" baseFrequency="0.04" numOctaves="2" seed="14" result="lo0"/><feColorMatrix in="lo0" type="matrix" values="1 0 0 0 0  0 1 0 0 0  0 0 1 0 0  0 0 0 0 1" result="lo"/><feTurbulence type="fractalNoise" baseFrequency="0.5" numOctaves="2" seed="31" result="hi0"/><feColorMatrix in="hi0" type="matrix" values="1 0 0 0 0  0 1 0 0 0  0 0 1 0 0  0 0 0 0 1" result="hi"/><feComposite in="lo" in2="hi" operator="arithmetic" k1="0" k2="0.55" k3="0.7" k4="-0.125" result="mix"/><feColorMatrix in="mix" type="matrix" values="0.360 -0.072 0 0 0.3658  0.360 -0.036 0 0 0.3517  0.360 0.120 0 0 0.2463  0 0 0 0 1"/></filter><filter id="tx3" x="0" y="0" width="1" height="1" color-interpolation-filters="sRGB"><feTurbulence type="fractalNoise" baseFrequency="0.05" numOctaves="2" seed="21" result="lo0"/><feColorMatrix in="lo0" type="matrix" values="1 0 0 0 0  0 1 0 0 0  0 0 1 0 0  0 0 0 0 1" result="lo"/><feTurbulence type="fractalNoise" baseFrequency="0.5" numOctaves="2" seed="44" result="hi0"/><feColorMatrix in="hi0" type="matrix" values="1 0 0 0 0  0 1 0 0 0  0 0 1 0 0  0 0 0 0 1" result="hi"/><feComposite in="lo" in2="hi" operator="arithmetic" k1="0" k2="0.45" k3="0.75" k4="-0.100" result="mix"/><feColorMatrix in="mix" type="matrix" values="0.360 -0.048 0 0 0.3460  0.360 -0.024 0 0 0.3457  0.360 0.080 0 0 0.2624  0 0 0 0 1"/></filter><filter id="tx4" x="0" y="0" width="1" height="1" color-interpolation-filters="sRGB"><feTurbulence type="fractalNoise" baseFrequency="0.04" numOctaves="2" seed="28" result="lo0"/><feColorMatrix in="lo0" type="matrix" values="1 0 0 0 0  0 1 0 0 0  0 0 1 0 0  0 0 0 0 1" result="lo"/><feTurbulence type="fractalNoise" baseFrequency="0.5" numOctaves="2" seed="57" result="hi0"/><feColorMatrix in="hi0" type="matrix" values="1 0 0 0 0  0 1 0 0 0  0 0 1 0 0  0 0 0 0 1" result="hi"/><feComposite in="lo" in2="hi" operator="arithmetic" k1="0" k2="0.5" k3="0.7" k4="-0.100" result="mix"/><feColorMatrix in="mix" type="matrix" values="0.360 -0.048 0 0 0.3264  0.360 -0.024 0 0 0.3261  0.360 0.080 0 0 0.3761  0 0 0 0 1"/></filter><filter id="bl3" x="-50%" y="-50%" width="200%" height="200%"><feGaussianBlur stdDeviation="3"/></filter><filter id="bl1" x="-50%" y="-50%" width="200%" height="200%"><feGaussianBlur stdDeviation="0.8"/></filter><clipPath id="cp1"><rect x="23.3" y="388.4" width="71.70" height="53.20"/></clipPath><clipPath id="cp2"><rect x="98.2" y="388.4" width="71.60" height="53.20"/></clipPath><clipPath id="cp3"><rect x="23.3" y="445.0" width="71.70" height="53.40"/></clipPath><clipPath id="cp4"><rect x="98.2" y="445.0" width="71.60" height="53.40"/></clipPath></defs>
<text x="17.60" y="417.00" font-size="8.6" text-anchor="middle" fill="#262626" font-style="italic" textLength="12.50" lengthAdjust="spacingAndGlyphs" stroke="#262626" stroke-width="0.18" transform="rotate(-90 17.60 417.00)">Ctrl</text>
<text x="18.00" y="468.00" font-size="8.6" text-anchor="middle" fill="#262626" font-style="italic" textLength="35.60" lengthAdjust="spacingAndGlyphs" stroke="#262626" stroke-width="0.18" transform="rotate(-90 18.00 468.00)">CBS7/9<tspan font-size="5.5" dy="-3.2">+/-</tspan></text>
<text x="180.90" y="440.40" font-size="8.6" text-anchor="middle" fill="#262626" textLength="102.00" lengthAdjust="spacingAndGlyphs" stroke="#262626" stroke-width="0.18" transform="rotate(-90 180.90 440.40)">IHS staining with anti-hCD45.</text>
<rect x="0" y="0" width="520" height="1.15" fill="#000"/><rect x="0" y="0" width="1.3" height="507" fill="#000"/><rect x="518.7" y="0" width="1.3" height="507" fill="#000"/><rect x="0" y="505.6" width="520" height="1.4" fill="#000"/>
</svg></div></body></html>
